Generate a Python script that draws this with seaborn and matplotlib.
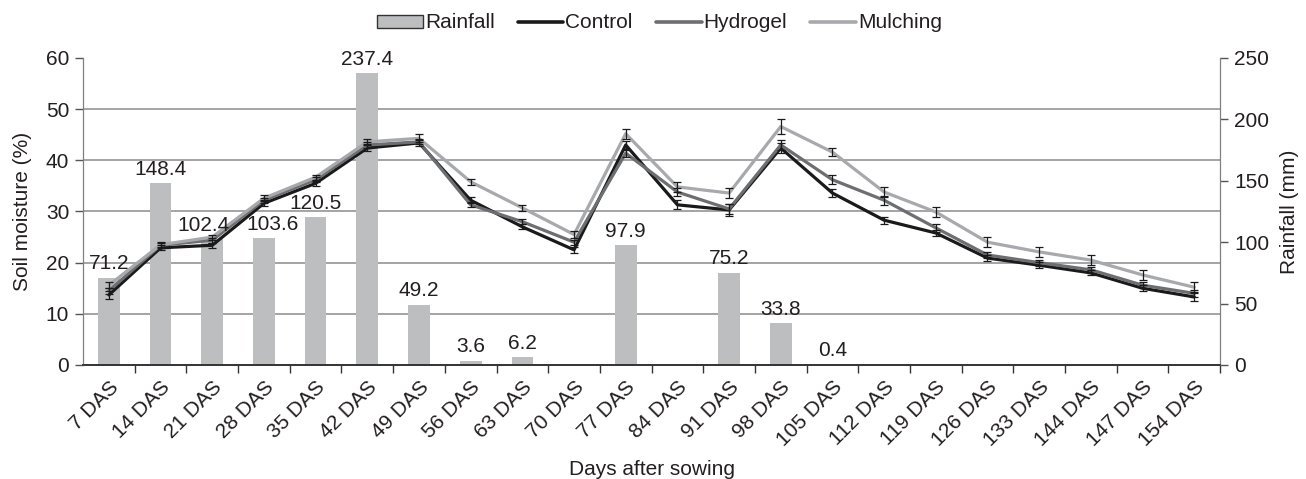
import matplotlib
matplotlib.use("Agg")
import matplotlib.pyplot as plt
from matplotlib.patches import Patch
from matplotlib.lines import Line2D
from matplotlib.ticker import MultipleLocator, NullFormatter
import seaborn as sns
import numpy as np
import pandas as pd

days = ["7 DAS", "14 DAS", "21 DAS", "28 DAS", "35 DAS", "42 DAS", "49 DAS", "56 DAS",
        "63 DAS", "70 DAS", "77 DAS", "84 DAS", "91 DAS", "98 DAS", "105 DAS", "112 DAS",
        "119 DAS", "126 DAS", "133 DAS", "144 DAS", "147 DAS", "154 DAS"]
rainfall = [71.2, 148.4, 102.4, 103.6, 120.5, 237.4, 49.2, 3.6, 6.2, 0, 97.9, 0,
            75.2, 33.8, 0.4, 0, 0, 0, 0, 0, 0, 0]
control = [13.7, 22.9, 23.4, 31.6, 35.5, 42.4, 43.4, 32.2, 27.0, 22.5, 43.0, 31.3,
           30.3, 42.4, 33.6, 28.3, 25.8, 20.9, 19.5, 18.0, 15.0, 13.3]
hydrogel = [14.5, 23.4, 24.4, 32.2, 36.2, 43.0, 43.6, 31.3, 28.0, 24.0, 41.4, 33.8,
            30.5, 43.0, 36.2, 32.2, 26.8, 21.5, 20.0, 18.6, 15.6, 14.0]
mulching = [15.6, 23.5, 25.0, 32.6, 36.7, 43.6, 44.3, 35.8, 30.7, 25.5, 45.2, 34.8,
            33.6, 46.6, 41.6, 33.8, 29.9, 24.0, 22.1, 20.5, 17.6, 15.2]
control_err = [0.8, 0.5, 0.5, 0.6, 0.5, 0.5, 0.6, 0.6, 0.5, 0.6, 0.8, 0.9, 1.1, 0.9,
               0.8, 0.7, 0.6, 0.5, 0.6, 0.5, 0.6, 0.7]
hydrogel_err = [0.6, 0.5, 0.5, 0.5, 0.5, 0.5, 0.5, 0.5, 0.5, 0.5, 0.7, 0.7, 0.9, 0.9,
                0.9, 0.9, 0.8, 0.6, 0.6, 0.6, 0.6, 0.7]
mulching_err = [0.6, 0.5, 0.5, 0.6, 0.5, 0.5, 0.8, 0.6, 0.6, 0.6, 1.0, 0.9, 1.0, 1.5,
                0.8, 1.0, 1.0, 1.0, 1.0, 0.9, 0.9, 1.0]

colors = {"Control": "#1a1a1a", "Hydrogel": "#6d6e71", "Mulching": "#a7a9ac"}
bar_color = "#bcbec0"
fs = 15

sns.set_style("white")
plt.rcParams["font.family"] = ["Liberation Sans", "DejaVu Sans"]
plt.rcParams["font.size"] = fs
plt.rcParams["text.color"] = "#231f20"
plt.rcParams["xtick.color"] = "#231f20"
plt.rcParams["ytick.color"] = "#231f20"
plt.rcParams["axes.labelcolor"] = "#231f20"

fig = plt.figure(figsize=(13.06, 4.79), dpi=100)
ax2 = fig.add_axes([0.0636, 0.238, 0.8706, 0.641])  # rainfall (right axis, drawn below)
ax = ax2.twinx()  # soil moisture (left axis, drawn on top)
ax.set_zorder(ax2.get_zorder() + 1)
ax.patch.set_visible(False)

pos = np.arange(len(days))

# rainfall bars
rain_df = pd.DataFrame({"pos": pos, "rain": rainfall})
sns.barplot(data=rain_df, x="pos", y="rain", color=bar_color, width=0.42,
            saturation=1, linewidth=0, ax=ax2, native_scale=True, zorder=2)
ax2.set_ylim(0, 250)
ax2.yaxis.set_major_locator(MultipleLocator(50))
ax2.yaxis.set_minor_locator(MultipleLocator(250 / 6))
ax2.yaxis.set_minor_formatter(NullFormatter())
ax2.grid(which="minor", axis="y", color="#8c8c8c", linewidth=1.1, zorder=0)
ax2.set_axisbelow(True)
ax2.yaxis.tick_right()
ax2.yaxis.set_label_position("right")
ax2.tick_params(axis="y", which="major", direction="out", length=6, width=1,
                color="#555555", labelsize=fs, pad=4, right=True, left=False)
ax2.tick_params(axis="y", which="minor", length=0)
ax2.set_ylabel("Rainfall (mm)", fontsize=fs, labelpad=8)

# soil moisture lines
long = pd.DataFrame({
    "pos": np.tile(pos, 3),
    "moisture": control + hydrogel + mulching,
    "Treatment": ["Control"] * len(days) + ["Hydrogel"] * len(days) + ["Mulching"] * len(days),
})
sns.lineplot(data=long, x="pos", y="moisture", hue="Treatment", palette=colors,
             linewidth=2.3, ax=ax, legend=False, zorder=3)
for vals, errs in [(control, control_err), (hydrogel, hydrogel_err), (mulching, mulching_err)]:
    ax.errorbar(pos, vals, yerr=errs, fmt="none", ecolor="#1a1a1a", elinewidth=0.9,
                capsize=3, capthick=0.9, zorder=4)
ax.set_ylim(0, 60)
ax.yaxis.set_major_locator(MultipleLocator(10))
ax.yaxis.tick_left()
ax.yaxis.set_label_position("left")
ax.tick_params(axis="y", direction="out", length=6, width=1, color="#555555",
               labelsize=fs, pad=4, left=True, right=False)
ax.set_ylabel("Soil moisture (%)", fontsize=fs, labelpad=10)

# rainfall value labels, drawn on the top layer so they sit over the lines
nudge = {2: -6, 3: 6}  # keep 102.4 / 103.6 apart, as in the original
for i, (x, r) in enumerate(zip(pos, rainfall)):
    if r > 0:
        ax.annotate(f"{r:g}", xy=(x, r), xycoords=ax2.transData,
                    xytext=(nudge.get(i, 0), 3), textcoords="offset points",
                    ha="center", va="bottom", fontsize=fs)

ax.set_xlim(-0.5, len(days) - 0.5)
ax2.set_xlim(-0.5, len(days) - 0.5)
ax2.set_xticks(pos)
ax2.set_xticklabels(days, rotation=45, ha="right", rotation_mode="anchor", fontsize=fs)
ax2.set_xticks(pos + 0.5, minor=True)
ax2.tick_params(axis="x", which="major", length=0, pad=9)
ax2.tick_params(axis="x", which="minor", direction="out", length=6, width=1,
                color="#333333", bottom=True)
ax2.set_xlabel("Days after sowing", fontsize=fs, labelpad=7)
ax.tick_params(axis="x", which="both", bottom=False, labelbottom=False)
ax.set_xlabel("")

for a in (ax, ax2):
    a.spines["top"].set_visible(False)
    a.spines["left"].set_color("#7f7f7f")
    a.spines["right"].set_color("#7f7f7f")
    a.spines["bottom"].set_color("#333333")
    a.spines["bottom"].set_linewidth(1.2)

handles = [Patch(facecolor=bar_color, edgecolor="#333333", linewidth=1.0, label="Rainfall")]
handles += [Line2D([0], [0], color=colors[k], linewidth=2.6, label=k) for k in colors]
fig.legend(handles=handles, loc="center", bbox_to_anchor=(0.505, 0.952), ncol=4,
           frameon=False, fontsize=fs, handlelength=2.2, handleheight=0.6,
           handletextpad=0.1, columnspacing=1.1)

fig.savefig("out.png", dpi=100)
